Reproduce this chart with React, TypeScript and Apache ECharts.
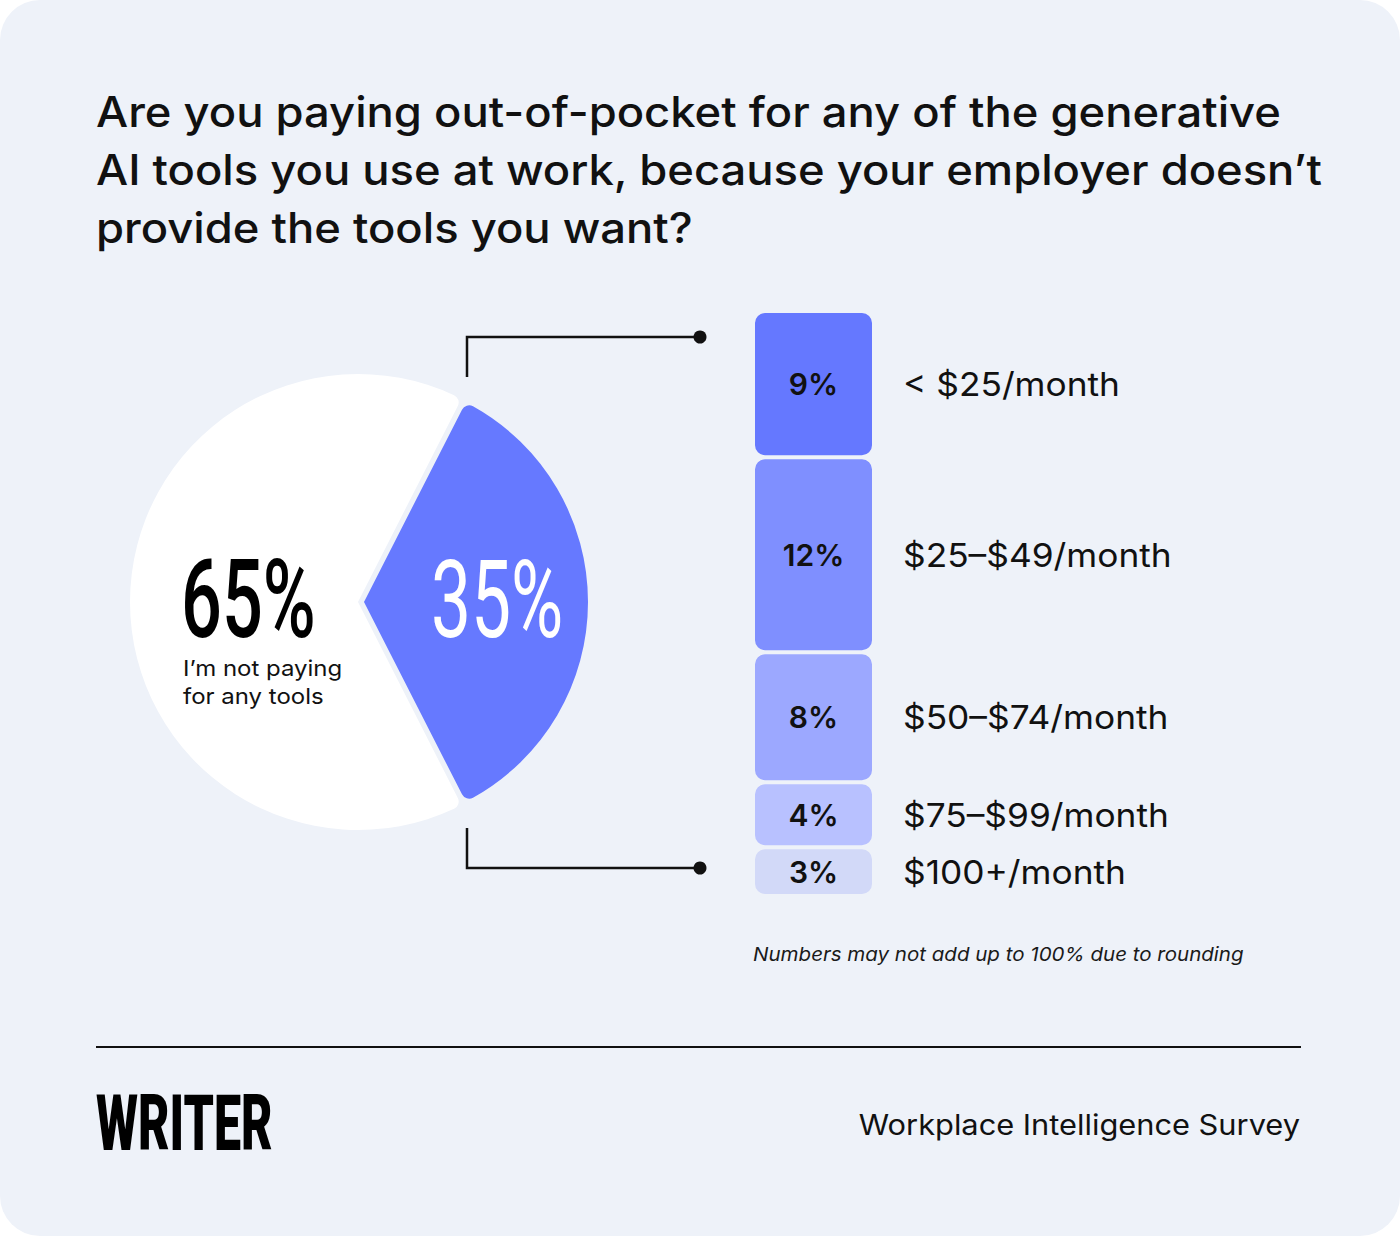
import React, { useEffect, useRef } from "react";
import * as echarts from "echarts";

const pieLabels = ["Paying for tools", "I’m not paying for any tools"];
const pieValues = [35, 65];

const tierLabels = ["< $25/month", "$25–$49/month", "$50–$74/month", "$75–$99/month", "$100+/month"];
const tierValues = [9, 12, 8, 4, 3];
const tierColors = ["#6578FF", "#7F8FFF", "#9CA8FF", "#B8C1FF", "#D2D9F8"];

const BG = "#EEF2F9";
const INK = "#111111";
const FONT = "Inter, 'Open Sans', sans-serif";

export default function App() {
  const ref = useRef<HTMLDivElement>(null);

  useEffect(() => {
    if (!ref.current) return;
    const chart = echarts.init(ref.current, null, { renderer: "svg" });
    const total = tierValues.reduce((a, b) => a + b, 0);

    const barSeries = tierValues.map((v, i) => ({
      type: "bar",
      name: tierLabels[i],
      stack: "tiers",
      data: [v],
      barCategoryGap: 0,
      barWidth: "100%",
      silent: true,
      itemStyle: {
        color: tierColors[i],
        borderColor: BG,
        borderWidth: 2,
        borderRadius: 11,
      },
      label: {
        show: true,
        position: "inside",
        formatter: `${v}%`,
        fontFamily: FONT,
        fontSize: 30,
        fontWeight: 600,
        color: INK,
      },
    }));

    const baseGraphic: any[] = [
      {
        type: "rect",
        z: -100,
        shape: { x: 0, y: 0, width: 1400, height: 1236, r: 40 },
        style: { fill: BG },
        silent: true,
      },
      {
        type: "text",
        x: 96,
        y: 83,
        scaleX: 1.08,
        style: {
          text:
            "Are you paying out-of-pocket for any of the generative\nAI tools you use at work, because your employer doesn’t\nprovide the tools you want?",
          fontFamily: FONT,
          fontSize: 42,
          fontWeight: 500,
          lineHeight: 58,
          fill: INK,
        },
      },
      {
        type: "text",
        z: 100,
        x: 181,
        y: 600,
        scaleX: 0.66,
        style: {
          text: `${pieValues[1]}%`,
          fontFamily: "Roboto, sans-serif",
          fontSize: 109,
          fontWeight: 500,
          fill: "#000",
          verticalAlign: "middle",
        },
      },
      {
        type: "text",
        z: 100,
        x: 431,
        y: 600,
        scaleX: 0.66,
        style: {
          text: `${pieValues[0]}%`,
          fontFamily: "Roboto, sans-serif",
          fontSize: 108,
          fontWeight: 400,
          fill: "#fff",
          verticalAlign: "middle",
        },
      },
      {
        type: "text",
        z: 100,
        x: 183,
        y: 654,
        scaleX: 1.09,
        style: {
          text: "I’m not paying\nfor any tools",
          fontFamily: FONT,
          fontSize: 22,
          lineHeight: 28,
          fill: INK,
        },
      },
      {
        type: "polyline",
        shape: { points: [[467, 377], [467, 337], [700, 337]] },
        style: { stroke: INK, lineWidth: 2.5, fill: "none" },
      },
      { type: "circle", shape: { cx: 700, cy: 337, r: 6.5 }, style: { fill: INK } },
      {
        type: "polyline",
        shape: { points: [[467, 828], [467, 868], [700, 868]] },
        style: { stroke: INK, lineWidth: 2.5, fill: "none" },
      },
      { type: "circle", shape: { cx: 700, cy: 868, r: 6.5 }, style: { fill: INK } },
      {
        type: "text",
        x: 753,
        y: 954,
        scaleX: 1.08,
        style: {
          text: "Numbers may not add up to 100% due to rounding",
          fontFamily: FONT,
          fontSize: 19,
          fontStyle: "italic",
          fill: "#1a1a1a",
          verticalAlign: "middle",
        },
      },
      {
        type: "line",
        shape: { x1: 96, y1: 1047, x2: 1301, y2: 1047 },
        style: { stroke: INK, lineWidth: 2 },
      },
      {
        type: "text",
        x: 96,
        y: 1124,
        scaleX: 0.62,
        style: {
          text: "WRITER",
          fontFamily: "Roboto, sans-serif",
          fontSize: 78,
          fontWeight: 900,
          fill: "#000",
          verticalAlign: "middle",
        },
      },
      {
        type: "text",
        x: 1300,
        y: 1125,
        scaleX: 1.1,
        style: {
          text: "Workplace Intelligence Survey",
          fontFamily: FONT,
          fontSize: 28,
          fill: INK,
          align: "right",
          verticalAlign: "middle",
        },
      },
    ];

    const option: any = {
      animation: false,
      backgroundColor: "#ffffff",
      grid: { left: 753, top: 311, width: 121, height: 585 },
      xAxis: { type: "category", data: ["tiers"], show: false },
      yAxis: { type: "value", min: 0, max: total, inverse: true, show: false },
      series: [
        {
          type: "pie",
          center: [358, 602],
          radius: 228,
          startAngle: 63,
          clockwise: true,
          silent: true,
          label: { show: false },
          labelLine: { show: false },
          itemStyle: { borderRadius: 8 },
          data: [
            { name: pieLabels[0], value: pieValues[0], itemStyle: { color: "rgba(0,0,0,0)" } },
            { name: pieLabels[1], value: pieValues[1], itemStyle: { color: "#ffffff" } },
          ],
        },
        {
          type: "pie",
          center: [364, 602],
          radius: 224,
          startAngle: 63,
          clockwise: true,
          silent: true,
          label: { show: false },
          labelLine: { show: false },
          itemStyle: { borderRadius: 8 },
          data: [
            { name: pieLabels[0], value: pieValues[0], itemStyle: { color: "#6679FF" } },
            { name: pieLabels[1], value: pieValues[1], itemStyle: { color: "rgba(0,0,0,0)" } },
          ],
        },
        ...barSeries,
      ],
      graphic: baseGraphic,
    };
    chart.setOption(option);

    let cum = 0;
    const tierTexts = tierValues.map((v, i) => {
      const mid = cum + v / 2;
      cum += v;
      const p = chart.convertToPixel({ gridIndex: 0 }, [0, mid]) as number[];
      return {
        type: "text",
        x: 903,
        y: p[1],
        scaleX: 1.07,
        style: {
          text: tierLabels[i],
          fontFamily: FONT,
          fontSize: 33,
          fill: INK,
          verticalAlign: "middle",
        },
      };
    });
    chart.setOption({ graphic: [...baseGraphic, ...tierTexts] });

    return () => chart.dispose();
  }, []);

  return (
    <div
      ref={ref}
      style={{ position: "absolute", left: 0, top: 0, width: 1400, height: 1236 }}
    />
  );
}
